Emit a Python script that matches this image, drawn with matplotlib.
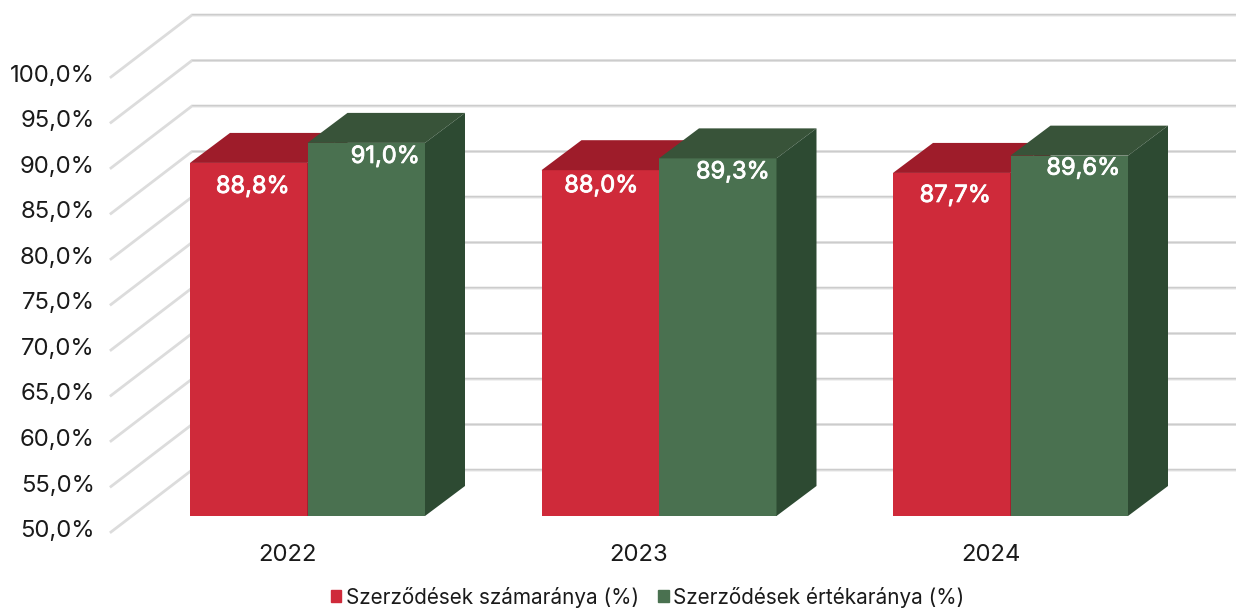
import numpy as np
import matplotlib
matplotlib.use("Agg")
import matplotlib.pyplot as plt
import matplotlib.patheffects as pe
from matplotlib.patches import Patch

anos = ["2022", "2023", "2024"]
szamaranya = [88.8, 88.0, 87.7]
ertekaranya = [91.0, 89.3, 89.6]
tengely = [50, 55, 60, 65, 70, 75, 80, 85, 90, 95, 100]
nev_piros = "Szerződések számaránya (%)"
nev_zold = "Szerződések értékaránya (%)"

plt.rcParams["font.family"] = ["Inter", "DejaVu Sans"]

# a kép pixelei -> adategység
W, H = 1236, 608
px_x = 351.5
px_y = 9.1
mely_x, mely_y = 40 / px_x, 30 / px_y
szel = 117.5 / px_x

fig = plt.figure(figsize=(W / 100, H / 100), dpi=100)
ax = fig.add_axes([0, 0, 1, 1])
ax.set_xlim(-307.5 / px_x, (W - 307.5) / px_x)
ax.set_ylim(50 - (H - 516) / px_y, 50 + 516 / px_y)
ax.axis("off")

# rácsvonalak: elöl balra, hátul, majd jobbra a kép széléig
x_eleje, x_hata = -196.5 / px_x, -115.5 / px_x
for v in tengely:
    ax.plot([x_eleje, x_hata, ax.get_xlim()[1]],
            [v - 16 / px_y, v + 46 / px_y, v + 46 / px_y],
            color="#dcdcdc", lw=2.0, solid_joinstyle="miter", zorder=1)
    ax.plot([x_hata, ax.get_xlim()[1]], [v + 46.8 / px_y] * 2,
            color="#c6c6c6", lw=0.5, zorder=1)
    ax.text(-213 / px_x, v - 15 / px_y, f"{v},0%", ha="right", va="center",
            fontsize=17.2, color="#1a1a1a", zorder=2)


def hasab(x0, ertek, szin, teteje, oldala):
    ax.bar(x0, ertek - 50, szel, bottom=50, align="edge", color=szin, zorder=3)
    ax.fill([x0, x0 + mely_x, x0 + szel + mely_x, x0 + szel],
            [ertek, ertek + mely_y, ertek + mely_y, ertek], color=teteje, lw=0, zorder=3)
    jobb = x0 + szel
    ax.fill([jobb, jobb + mely_x, jobb + mely_x, jobb],
            [50, 50 + mely_y, ertek + mely_y, ertek], color=oldala, lw=0, zorder=3)


poz = np.arange(len(anos))
for i in poz:
    hasab(i - szel, szamaranya[i], "#cf2a3a", "#9e1c2a", "#7d1621")
    hasab(i, ertekaranya[i], "#4a7150", "#385339", "#2d4a32")

# a feliratok nem egyformán ülnek a hasábokon
elt_piros = [(4, -24), (1, -16), (3.5, -23)]
elt_zold = [(19, -14), (15, -14), (14, -13)]
vastag = [pe.withStroke(linewidth=0.6, foreground="white")]
for i in poz:
    ax.annotate(f"{szamaranya[i]:.1f}%".replace(".", ","), (i - szel / 2, szamaranya[i]),
                xytext=(elt_piros[i][0] * 0.72, elt_piros[i][1] * 0.72), textcoords="offset points",
                ha="center", va="center", color="white", fontsize=17, zorder=4, path_effects=vastag)
    ax.annotate(f"{ertekaranya[i]:.1f}%".replace(".", ","), (i + szel / 2, ertekaranya[i]),
                xytext=(elt_zold[i][0] * 0.72, elt_zold[i][1] * 0.72), textcoords="offset points",
                ha="center", va="center", color="white", fontsize=17, zorder=4, path_effects=vastag)
    ax.text(i - 20 / px_x, 50 - 39 / px_y, anos[i], ha="center", va="center",
            fontsize=17.2, color="#1a1a1a")

kezek = [Patch(color="#cf2a3a", label=nev_piros), Patch(color="#4a7150", label=nev_zold)]
ax.legend(handles=kezek, loc="center", bbox_to_anchor=(647.5 / W, 1 - 597 / H),
          bbox_transform=fig.transFigure, ncol=2, frameon=False, fontsize=14.9,
          handlelength=0.5, handleheight=0.5, handletextpad=0.2, columnspacing=0.95,
          labelcolor="#1a1a1a", borderpad=0)

fig.savefig("out.png", dpi=100)
